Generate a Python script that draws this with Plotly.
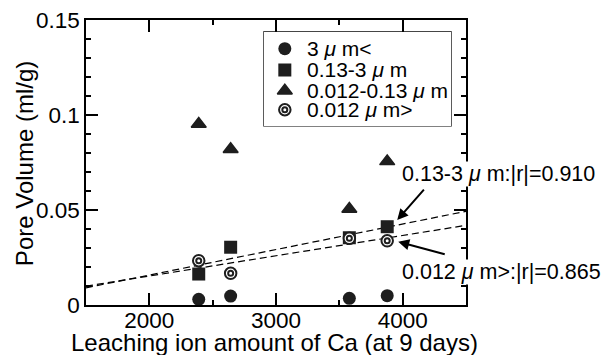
import numpy as np
import plotly.graph_objects as go

# ---- data ----
ca_leach = [2390, 2642, 3579, 3878]              # Leaching ion amount of Ca (at 9 days)
pv_3um = [0.0030, 0.0047, 0.0035, 0.0049]         # 3 µm<
pv_013_3 = [0.0163, 0.0304, 0.0354, 0.0412]       # 0.13-3 µm
pv_0012_013 = [0.0953, 0.0820, 0.0505, 0.0756]    # 0.012-0.13 µm
pv_0012 = [0.0233, 0.0167, 0.0351, 0.0338]        # 0.012 µm>

series_names = ["3 <i>μ</i> m&lt;", "0.13-3 <i>μ</i> m",
                "0.012-0.13 <i>μ</i> m", "0.012 <i>μ</i> m&gt;"]
fit_labels = ["0.13-3 <i>μ</i> m:|r|=0.910", "0.012 <i>μ</i> m&gt;:|r|=0.865"]

x_range = [1500, 4500]
y_range = [0, 0.15]
x_tickvals = [2000, 3000, 4000]
y_tickvals = [0, 0.05, 0.1, 0.15]
y_ticktext = ["0", "0.05", "0.1", "0.15"]

x_title = "Leaching ion amount of Ca (at 9 days)"
y_title = "Pore Volume (ml/g)"

FONT = "Liberation Sans, Arial, sans-serif"
INK = "#1e1e1e"

fig = go.Figure()

# regression lines (least squares over the data)
for yvals in (pv_013_3, pv_0012):
    k, b = np.polyfit(ca_leach, yvals, 1)
    xs = np.array(x_range, dtype=float)
    fig.add_trace(go.Scatter(x=xs, y=k * xs + b, mode="lines",
                             line=dict(color="black", width=1.2, dash="7px,4px"),
                             hoverinfo="skip", showlegend=False))

fig.add_trace(go.Scatter(x=ca_leach, y=pv_3um, mode="markers", showlegend=False,
                         marker=dict(symbol="circle", size=13, color=INK, line=dict(width=0))))
fig.add_trace(go.Scatter(x=ca_leach, y=pv_013_3, mode="markers", showlegend=False,
                         marker=dict(symbol="square", size=13, color=INK, line=dict(width=0))))
fig.add_trace(go.Scatter(x=ca_leach, y=pv_0012_013, mode="markers", showlegend=False,
                         marker=dict(symbol="triangle-up", size=13, color=INK,
                                     line=dict(width=1.5, color=INK))))
fig.add_trace(go.Scatter(x=ca_leach, y=pv_0012, mode="markers", showlegend=False,
                         marker=dict(symbol="circle", size=11.5, color="white",
                                     line=dict(width=2, color=INK))))
fig.add_trace(go.Scatter(x=ca_leach, y=pv_0012, mode="markers", showlegend=False,
                         hoverinfo="skip",
                         marker=dict(symbol="circle", size=5, color="white",
                                     line=dict(width=2, color=INK))))

# ---- custom legend drawn in its own hidden sub-axes ----
leg_sym_x = 0.112
leg_txt_x = 0.22
leg_rows = [0.822, 0.596, 0.376, 0.173]
leg_markers = [
    [dict(symbol="circle", size=13, color=INK, line=dict(width=0))],
    [dict(symbol="square", size=13, color=INK, line=dict(width=0))],
    [dict(symbol="triangle-up", size=13, color=INK, line=dict(width=1.5, color=INK))],
    [dict(symbol="circle", size=11.5, color="white", line=dict(width=2, color=INK)),
     dict(symbol="circle", size=5, color="white", line=dict(width=2, color=INK))],
]
for row_y, mks in zip(leg_rows, leg_markers):
    for mk in mks:
        fig.add_trace(go.Scatter(x=[leg_sym_x], y=[row_y], mode="markers", marker=mk,
                                 xaxis="x2", yaxis="y2", showlegend=False, hoverinfo="skip"))

annotations = []
for row_y, name in zip(leg_rows, series_names):
    annotations.append(dict(x=leg_txt_x, y=row_y, xref="x2", yref="y2", text=name,
                            showarrow=False, xanchor="left", yanchor="middle",
                            font=dict(size=21, color="black", family=FONT)))

# correlation labels + arrows
annotations.append(dict(x=3988, y=0.0689, xref="x", yref="y", text=fit_labels[0],
                        showarrow=False, xanchor="left", yanchor="middle", bgcolor="white",
                        borderpad=0, font=dict(size=21.5, color="black", family=FONT)))
annotations.append(dict(x=3988, y=0.0174, xref="x", yref="y", text=fit_labels[1],
                        showarrow=False, xanchor="left", yanchor="middle", bgcolor="white",
                        borderpad=0, font=dict(size=21.5, color="black", family=FONT)))
annotations.append(dict(x=3957, y=0.0447, xref="x", yref="y", text="", showarrow=True,
                        ax=28, ay=-32, arrowhead=2, arrowsize=1.1, arrowwidth=2,
                        arrowcolor="black", standoff=0))
annotations.append(dict(x=3965, y=0.0333, xref="x", yref="y", text="", showarrow=True,
                        ax=48, ay=13, arrowhead=2, arrowsize=1.1, arrowwidth=2,
                        arrowcolor="black", standoff=0))

# axis titles
annotations.append(dict(x=0.496, y=-0.13, xref="paper", yref="paper", text=x_title,
                        showarrow=False, xanchor="center", yanchor="middle",
                        font=dict(size=24, color="black", family=FONT)))
annotations.append(dict(x=-0.16, y=0.495, xref="paper", yref="paper", text=y_title,
                        showarrow=False, xanchor="center", yanchor="middle", textangle=-90,
                        font=dict(size=24, color="black", family=FONT)))

axis_common = dict(showline=True, linecolor="black", linewidth=1.5, mirror="ticks",
                   ticks="inside", ticklen=12, tickwidth=1.5, tickcolor="black",
                   showgrid=False, zeroline=False, automargin=False,
                   tickfont=dict(size=22.5, color="black", family=FONT))

fig.update_layout(
    width=608, height=355,
    margin=dict(l=86, r=142, t=20, b=50, autoexpand=False),
    paper_bgcolor="white", plot_bgcolor="white",
    font=dict(family=FONT, color="black"),
    xaxis=dict(range=x_range, tickvals=x_tickvals, domain=[0, 1], ticklabelstandoff=-6,
               minor=dict(dtick=500, tick0=0, ticks="inside", ticklen=5,
                          tickwidth=1.5, tickcolor="black", showgrid=False),
               **axis_common),
    yaxis=dict(range=y_range, tickvals=y_tickvals, ticktext=y_ticktext, domain=[0, 1],
               minor=dict(dtick=0.01, tick0=0, ticks="inside", ticklen=5,
                          tickwidth=1.5, tickcolor="black", showgrid=False),
               **axis_common),
    xaxis2=dict(domain=[0.468, 0.961], range=[0, 1], anchor="y2", visible=False,
                fixedrange=True),
    yaxis2=dict(domain=[0.628, 0.958], range=[0, 1], anchor="x2", visible=False,
                fixedrange=True),
    shapes=[dict(type="rect", xref="paper", yref="paper", x0=0.468, x1=0.961,
                 y0=0.628, y1=0.958, line=dict(color="black", width=1.2),
                 fillcolor="white", layer="below")],
    annotations=annotations,
    showlegend=False,
)

fig.write_html("out.html", config={"displayModeBar": False},
               post_script="document.body.style.margin='0';document.body.style.padding='0';")
